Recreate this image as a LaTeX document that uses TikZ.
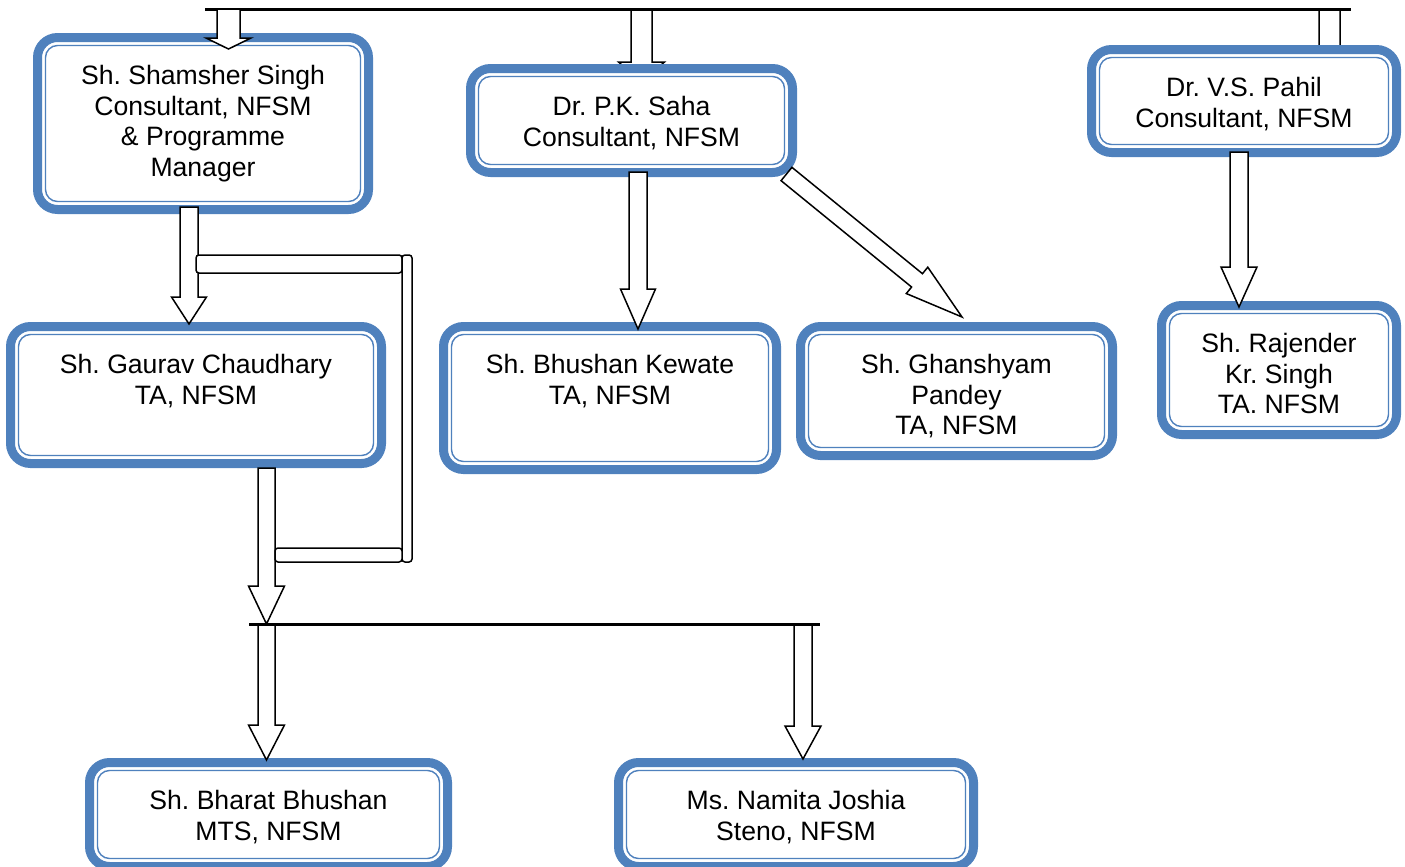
\documentclass[tikz,border=0pt]{standalone}
\usepackage{fontspec}
\setmainfont{Liberation Sans}
\frenchspacing
\usepackage{tikz}
\usetikzlibrary{calc}
\usetikzlibrary{positioning}

\definecolor{boxblue}{HTML}{4F81BD}

% hollow block arrow: start, tip, shaft half width, head half width, head length
\newcommand{\blockarrow}[5]{%
  \path #1 coordinate (ba-s) #2 coordinate (ba-t);
  \path ($(ba-t)!#5!(ba-s)$) coordinate (ba-h);
  \draw[arrowbody] ($(ba-s)!#3!90:(ba-t)$) -- ($(ba-h)!#3!-90:(ba-s)$)
    -- ($(ba-h)!#4!-90:(ba-s)$) -- (ba-t) -- ($(ba-h)!#4!90:(ba-s)$)
    -- ($(ba-h)!#3!90:(ba-s)$) -- ($(ba-s)!#3!-90:(ba-t)$) -- cycle;
}

\begin{document}
\begin{tikzpicture}[x=0.5pt, y=-0.5pt]
\tikzstyle{orgbox} = [rectangle, draw = boxblue, fill = white, line width = 4.5pt, outer sep = 2.25pt, rounded corners = 10pt]
\tikzstyle{innerline} = [draw = boxblue, line width = 0.7pt, rounded corners = 6pt]
\tikzstyle{nametext} = [font = \fontsize{13.3pt}{15.4pt}\selectfont, align = center, inner sep = 0pt, outer sep = 0pt]
\tikzstyle{arrowbody} = [draw = black, fill = white, line width = 0.75pt, line join = miter]
\tikzstyle{hollowbar} = [draw = black, fill = white, line width = 0.75pt, rounded corners = 1.5pt]
\tikzstyle{barline} = [draw = black, line width = 1.5pt]

\useasboundingbox (0,0) rectangle (1405,867);
\clip (0,0) rectangle (1405,867);

% bus lines and their taps
\coordinate (topbar-w) at (205,9);
\coordinate (topbar-e) at (1351,9);
\coordinate (tap-shamsher) at (228.5,9);
\coordinate (tap-saha) at (641.5,9);
\coordinate (tap-pahil) at (1329.5,9);
\coordinate (botbar-w) at (249,624);
\coordinate (botbar-e) at (820,624);
\coordinate (tap-bharat) at (266.5,624);
\coordinate (tap-namita) at (803,624);

% these two run under their boxes
\blockarrow{(tap-saha)}{(641.5,82)}{5.25pt}{11.5pt}{10pt}
\blockarrow{(tap-pahil)}{(1329.5,72)}{5.25pt}{11.5pt}{10pt}
\draw [barline] (topbar-w) -- (topbar-e);

% boxes
\node (shamsher) [orgbox, minimum width = 165.5pt, minimum height = 86pt] at (203,123.5) {};
\node (saha) [orgbox, minimum width = 161pt, minimum height = 52pt] at (631.5,120.5) {};
\node (pahil) [orgbox, minimum width = 152.5pt, minimum height = 51.5pt] at (1244,101) {};
\node (gaurav) [orgbox, minimum width = 185.5pt, minimum height = 68.5pt] at (196,395) {};
\node (bhushan) [orgbox, minimum width = 166.5pt, minimum height = 71.5pt] at (610,398) {};
\node (ghanshyam) [orgbox, minimum width = 156pt, minimum height = 64.5pt] at (956.5,391) {};
\node (rajender) [orgbox, minimum width = 117.5pt, minimum height = 64.5pt] at (1279,370) {};
\node (bharat) [orgbox, minimum width = 179pt, minimum height = 52pt] at (268.5,814.5) {};
\node (namita) [orgbox, minimum width = 177.5pt, minimum height = 52pt] at (796,814.5) {};

\foreach \n in {shamsher,saha,pahil,gaurav,bhushan,ghanshyam,rajender,bharat,namita}
  \draw [innerline] ([shift={(12.5,12.5)}]\n.north west) rectangle ([shift={(-12.5,-12.5)}]\n.south east);

\node (shamsher-t) [nametext, below = 16pt of shamsher.north] {Sh. Shamsher Singh\\Consultant, NFSM\\\& Programme\\Manager};
\node (saha-t) [nametext, below = 16pt of saha.north] {Dr. P.K. Saha\\Consultant, NFSM};
\node (pahil-t) [nametext, below = 16pt of pahil.north] {Dr. V.S. Pahil\\Consultant, NFSM};
\node (gaurav-t) [nametext, below = 16pt of gaurav.north] {Sh. Gaurav Chaudhary\\TA, NFSM};
\node (bhushan-t) [nametext, below = 16pt of bhushan.north] {Sh. Bhushan Kewate\\TA, NFSM};
\node (ghanshyam-t) [nametext, below = 16pt of ghanshyam.north] {Sh. Ghanshyam\\Pandey\\TA, NFSM};
\node (rajender-t) [nametext, below = 16pt of rajender.north] {Sh. Rajender\\Kr. Singh\\TA. NFSM};
\node (bharat-t) [nametext, below = 16pt of bharat.north] {Sh. Bharat Bhushan\\MTS, NFSM};
\node (namita-t) [nametext, below = 16pt of namita.north] {Ms. Namita Joshia\\Steno, NFSM};

% connectors
\blockarrow{(tap-shamsher)}{([shift={(25.5,16)}]shamsher.north)}{5.75pt}{11.25pt}{5.5pt}
\blockarrow{([shift={(-14,-7)}]shamsher.south)}{([shift={(-7,2)}]gaurav.north)}{4.5pt}{8.75pt}{13.5pt}
\blockarrow{([shift={(6.5,-5)}]saha.south)}{([shift={(28,7)}]bhushan.north)}{4.5pt}{8.75pt}{20pt}
\blockarrow{([shift={(-10.5,-3)}]saha.south east)}{([shift={(5.5,-5)}]ghanshyam.north)}{4.3pt}{8.5pt}{29pt}
\blockarrow{([shift={(-5,-5)}]pahil.south)}{([shift={(-40,6)}]rajender.north)}{4.5pt}{9pt}{20pt}
\blockarrow{([shift={(70.5,0)}]gaurav.south)}{(tap-bharat)}{4.25pt}{9pt}{19pt}
\blockarrow{(tap-bharat)}{([shift={(-2,2)}]bharat.north)}{4.25pt}{9pt}{17.5pt}
\blockarrow{(tap-namita)}{([shift={(7,1)}]namita.north)}{4.5pt}{9pt}{16.5pt}

\draw [hollowbar] (196,255) rectangle (402,273);
\draw [hollowbar] (402,255) rectangle (412,562);
\draw [hollowbar] (275,548) rectangle (402,562);

\draw [barline] (botbar-w) -- (botbar-e);
\end{tikzpicture}
\end{document}
